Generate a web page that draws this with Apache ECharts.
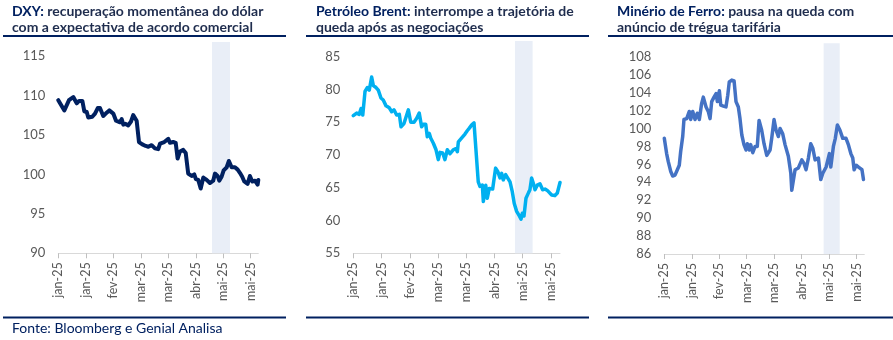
<!DOCTYPE html>
<html><head><meta charset="utf-8">
<script src="https://cdn.jsdelivr.net/npm/echarts@6/dist/echarts.min.js"></script>
<style>html,body{margin:0;padding:0;background:#fff}#c{width:893px;height:340px}</style>
</head><body><div id="c"></div>
<script>
// ---- data ----
const xTickDays = [0, 20, 40, 60, 80, 100, 120, 140];
const xTickLabels = ["jan-25","jan-25","fev-25","mar-25","mar-25","abr-25","mai-25","mai-25"];

const dxyTicks = [90, 95, 100, 105, 110, 115];
const dxyDays = [0,4.4,7.8,10.9,13.4,15.1,17.5,18.9,20.7,21.8,24.7,26.7,28.7,30.3,32.7,34.5,37.1,40,42,44.9,46.1,47.3,49,50.9,52.9,54.5,57,58.7,61.1,63.6,65.5,67.9,70.3,72.7,74,77.1,80,81.2,83.6,85.4,86.8,88.5,90.9,92.7,94.5,97,98.9,100.1,101.8,103.6,105.5,107.9,110.3,112.7,114,115.9,117.1,118.8,120.3,122.5,124.1,126.1,128.5,130.5,132.1,133.8,135.3,137.7,139.4,141.1,143.1,145,145.5];
const dxyValues = [109.4,108.1,109.4,109.8,109.0,109.3,109.3,108.0,107.9,107.2,107.3,107.7,108.4,108.4,107.4,107.7,108.1,107.7,106.8,106.6,107.0,106.3,106.4,106.2,106.7,107.5,106.8,104.1,103.8,103.6,103.5,103.7,103.3,103.2,103.9,104.1,104.5,104.0,104.1,104.0,102.0,102.9,103.1,102.7,100.1,99.8,100.0,99.4,99.3,98.2,99.6,99.3,98.9,99.2,100.1,99.8,99.2,99.7,100.5,100.9,101.7,100.9,100.9,100.6,100.2,99.7,99.1,98.8,99.8,99.1,99.2,98.7,99.3];
const dxyBand = [111.8, 124.9];

const brentTicks = [55, 60, 65, 70, 75, 80, 85];
const brentDays = [0,2.4,4.2,5.5,6.7,8.3,9.9,11.3,13.0,14.2,16.1,17.7,19.6,21.2,23.2,25.5,27.2,28.8,30.7,32.6,33.8,35.9,37.3,39.0,40.7,43.0,44.9,46.7,48.4,49.6,51.3,52.4,53.8,54.8,56.7,58.6,60.2,61.4,63.3,64.9,66.6,68.5,70.8,72.7,73.7,74.4,76.8,79.1,80.7,82.2,83.9,85.5,86.9,88.5,89.7,91.4,92.1,93.8,94.9,96.3,98.7,99.9,100.8,102.3,103.9,105.1,106.2,107.9,109.3,111.0,112.6,114.0,115.7,117.6,118.8,119.7,120.9,122.3,124.2,125.1,126.3,127.5,128.7,130.3,132.2,134.1,135.8,137.4,138.8,140.5,142.8,144.5,145.6,146.4];
const brentValues = [76.0,76.4,76.2,77.1,76.1,79.7,80.3,79.9,81.9,80.6,80.3,79.9,78.7,78.4,77.5,77.2,76.6,76.9,76.1,76.2,74.3,74.8,75.1,76.9,75.0,75.0,75.6,76.4,74.3,74.7,74.7,72.8,73.3,72.6,71.8,70.8,69.3,70.4,70.3,69.3,70.8,70.2,70.8,71.0,70.5,72.0,72.6,73.2,73.7,74.1,74.6,74.9,74.8,65.9,65.2,65.4,62.9,65.4,63.4,64.9,64.8,64.9,68.0,67.5,66.5,67.2,66.2,67.0,66.7,65.9,64.4,62.6,61.4,60.7,60.2,61.1,60.7,63.4,64.3,64.7,66.5,65.7,64.7,65.4,65.6,64.7,64.8,64.6,64.8,63.9,63.8,64.2,64.4,65.8];
const brentBand = [114.5, 127.0];

const ironTicks = [86, 88, 90, 92, 94, 96, 98, 100, 102, 104, 106, 108];
const ironDays = [0,1.7,2.9,4.7,6.1,7.8,9.5,10.9,11.9,13.4,14.3,16.3,18.2,19.2,20.7,22.4,24.0,25.5,27.2,28.4,30.4,32.0,33.3,34.5,36.2,37.7,38.6,40.1,41.1,43.0,44.9,46.2,47.3,49.1,50.8,52.2,53.9,55.1,56.4,58.0,59.5,60.5,61.9,62.9,64.4,66.1,67.7,69.0,70.9,72.6,74.6,77.0,78.2,79.9,81.4,83.0,84.3,86.2,87.9,90.3,92.1,92.8,93.5,95.2,97.6,100.1,101.7,103.2,104.9,106.6,108.1,109.8,112.2,113.9,115.4,117.8,120.2,121.2,123.1,124.5,126.0,127.9,129.9,132.3,134.0,135.8,137.2,138.2,139.7,141.4,142.6,143.9,145.0];
const ironValues = [98.9,97.2,96.3,95.2,94.7,94.8,95.4,95.9,97.4,99.1,101.0,101.1,101.9,101.0,101.9,101.0,101.7,101.0,102.8,103.5,102.4,101.9,101.1,103.0,103.5,103.9,103.0,104.2,102.6,102.5,102.4,103.7,105.2,105.4,105.3,103.0,102.4,101.1,99.3,98.2,97.6,98.3,97.6,98.2,97.3,98.0,98.0,100.9,99.8,98.3,97.0,97.6,98.9,101.0,99.8,99.1,100.0,99.4,98.2,96.9,95.0,93.1,93.2,95.4,95.6,96.5,96.1,95.4,96.7,98.3,97.8,96.5,96.7,94.3,95.0,95.7,97.2,95.7,98.0,98.9,100.4,99.8,98.9,98.9,98.2,97.2,96.7,95.4,95.9,95.7,95.6,95.4,94.3];
const ironBand = [116.0, 127.7];

// ---- chart ----
const FONT = 'Lato, "Open Sans", sans-serif';
const NAVY = '#002060';
const pairs = (d, v) => d.map((x, i) => [x, v[i]]);

const panels = [
  {grid:{left:58.3,right:634.7,top:42,height:211.3}, xmax:145.5, ymin:90, ymax:116.77, ticks:dxyTicks, days:dxyDays, vals:dxyValues, band:dxyBand, color:'#002060', width:4},
  {grid:{left:353.3,right:333,top:41,height:212.3}, xmax:146.4, ymin:55, ymax:87.4, ticks:brentTicks, days:brentDays, vals:brentValues, band:brentBand, color:'#00B0F0', width:3.5},
  {grid:{left:664.3,right:28.7,top:43.3,height:210.7}, xmax:145.6, ymin:86, ymax:109.5, ticks:ironTicks, days:ironDays, vals:ironValues, band:ironBand, color:'#4472C4', width:3.5}
];

const titles = [
  {left:12, b:'DXY:', l1:' recuperação momentânea do dólar', l2:'com a expectativa de acordo comercial'},
  {left:316, b:'Petróleo Brent:', l1:' interrompe a trajetória de', l2:'queda após as negociações'},
  {left:617, b:'Minério de Ferro:', l1:' pausa na queda com', l2:'anúncio de trégua tarifária'}
];

const option = {
  animation:false,
  title: titles.map(t => ({
    left:t.left, top:3, padding:0,
    text:'{b|' + t.b + '}{r|' + t.l1 + '}\n{r|' + t.l2 + '}',
    textStyle:{rich:{
      b:{fontFamily:FONT, fontWeight:'bold', fontSize:14, color:NAVY, lineHeight:16},
      r:{fontFamily:FONT, fontSize:14, color:'#1F2D4E', lineHeight:16}
    }}
  })),
  grid: panels.map(p => p.grid),
  xAxis: panels.map((p, i) => ({
    type:'value', gridIndex:i, min:0, max:p.xmax,
    splitLine:{show:false},
    axisLine:{lineStyle:{color:'#D9D9D9', width:1}},
    axisTick:{customValues:xTickDays, length:5, lineStyle:{color:'#BFBFBF'}},
    axisLabel:{customValues:xTickDays, rotate:90, margin:9, fontFamily:FONT, fontSize:12.5, color:'#595959',
      formatter:v => { const k = xTickDays.indexOf(v); return k >= 0 ? xTickLabels[k] : ''; }}
  })),
  yAxis: panels.map((p, i) => ({
    type:'value', gridIndex:i, min:p.ymin, max:p.ymax,
    splitLine:{show:false}, axisLine:{show:false}, axisTick:{show:false},
    axisLabel:{customValues:p.ticks, margin:13, fontFamily:FONT, fontSize:13, color:'#595959'}
  })),
  series: panels.flatMap((p, i) => [
    {type:'line', xAxisIndex:i, yAxisIndex:i, data:[], z:1, silent:true,
     markArea:{silent:true, itemStyle:{color:'#E9EEF7'}, data:[[{xAxis:p.band[0]},{xAxis:p.band[1]}]]}},
    {type:'line', xAxisIndex:i, yAxisIndex:i, z:3, data:pairs(p.days, p.vals), showSymbol:false,
     lineStyle:{color:p.color, width:p.width, join:'round', cap:'round'}}
  ]),
  graphic: [
    {type:'rect', shape:{x:3, y:35, width:283, height:2}, style:{fill:NAVY}},
    {type:'rect', shape:{x:306, y:35, width:283, height:2}, style:{fill:NAVY}},
    {type:'rect', shape:{x:608, y:35, width:285, height:2}, style:{fill:NAVY}},
    {type:'rect', shape:{x:3, y:316.5, width:283, height:2}, style:{fill:NAVY}},
    {type:'rect', shape:{x:306, y:316.5, width:283, height:2}, style:{fill:NAVY}},
    {type:'rect', shape:{x:608, y:316.5, width:285, height:2}, style:{fill:NAVY}},
    {type:'text', left:12, top:321, style:{text:'Fonte: Bloomberg e Genial Analisa', font:'14px ' + FONT, fill:NAVY}}
  ]
};
echarts.init(document.getElementById('c')).setOption(option);
</script></body></html>
